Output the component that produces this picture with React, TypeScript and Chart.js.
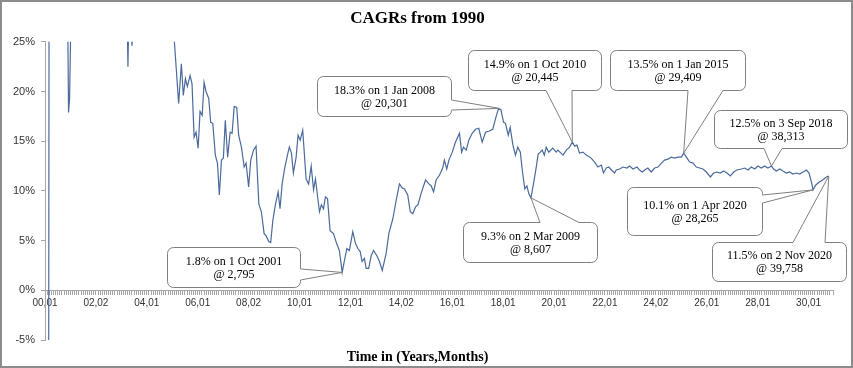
import React, { useEffect, useRef } from 'react';
import { Chart, registerables } from 'chart.js';

Chart.register(...registerables);

const TITLE = 'CAGRs from 1990';
const X_TITLE = 'Time in (Years,Months)';

const xTickLabels = ['00,01', '02,02', '04,01', '06,01', '08,02', '10,01', '12,01', '14,02', '16,01', '18,01', '20,01', '22,01', '24,02', '26,01', '28,01', '30,01'];

// month index since Jan 1990
const months = [
  1.5, 2.2, 5, 9, 10.6, 11.1, 11.6, 12.4, 20, 30, 38.6, 39.1, 39.7, 40.7, 41.0, 41.4, 48, 56, 61.0,
  63.0, 64.3, 65.2, 66.2, 67.1, 68.4, 69.3, 70.3, 71.2, 72.2, 73.1, 74.1, 75.0, 75.9, 77.2, 78.1, 79.1,
  80.3, 81.3, 82.2, 83.2, 84.1, 85.0, 86.1, 87.3, 88.2, 89.2, 90.4, 91.3, 92.6, 93.9, 94.8, 96.0, 97.0,
  98.3, 99.5, 100.8, 102.0, 103.3, 104.2, 105.5, 106.4, 107.4, 108.6, 109.9, 110.8, 111.8, 113.0, 114.3,
  115.2, 116.2, 117.1, 118.4, 119.3, 120.3, 121.5, 123.1, 124.3, 125.5, 126.6, 127.5, 129.4, 130.3, 131.3,
  132.2, 133.2, 134.4, 136.0, 137.5, 138.8, 140.1, 141.2, 142.3, 143.5, 145.1, 146.4, 147.5, 148.6, 149.5,
  150.6, 151.4, 152.6, 153.8, 154.9, 156.4, 157.7, 159.0, 160.8, 162.1, 164.0, 165.6, 167.1, 168.4, 169.5,
  171.0, 172.2, 173.4, 174.7, 175.8, 177.4, 179.4, 181.0, 182.1, 183.2, 184.4, 186.0, 187.5, 188.3, 189.4,
  190.4, 192.0, 193.5, 195.4, 196.4, 197.3, 198.6, 199.8, 201.4, 203.0, 204.5, 206.1, 207.7, 209.2, 211.1,
  212.7, 213.7, 214.9, 216.2, 217.1, 218.4, 219.3, 220.6, 221.8, 222.9, 224.1, 225.0, 226.2, 227.2, 228.1,
  229.1, 230.3, 231.6, 232.5, 233.5, 234.4, 235.4, 236.3, 237.5, 239.4, 241.0, 241.8, 244.2, 245.8, 247.3,
  248.6, 249.7, 250.8, 252.0, 253.6, 255.2, 257.5, 259.1, 260.7, 262.3, 263.3, 264.6, 265.8, 267.1, 268.5,
  269.3, 270.9, 272.5, 274.3, 275.6, 277.2, 279.1, 280.3, 281.6, 282.7, 284.2, 285.8, 287.4, 289.0, 290.6,
  292.1, 293.7, 295.3, 296.8, 298.4, 300.0, 301.1, 302.4, 303.9, 305.5, 307.1, 308.6, 310.2, 311.8, 313.7,
  315.2, 316.8, 318.4, 319.9, 321.5, 323.1, 324.7, 326.2, 328.3, 329.9, 331.4, 333.0, 334.6, 336.1, 337.7,
  339.3, 340.8, 342.5, 343.5, 344.8, 346.4, 347.9, 349.5, 351.1, 352.6, 354.2, 355.8, 357.4, 359.0, 360.2,
  361.3, 362.1, 363.4, 365.0, 366.6, 368.4, 369.5,
];

// CAGR in percent
const cagrPct = [
  -60, 90, 60, 40, 30, 17.9, 19.4, 30, 45, 35, 30, 22.5, 30, 26, 24.6, 26, 33, 30, 25.0,
  18.8, 22.8, 19.6, 21.3, 20.5, 21.6, 20.8, 15.4, 15.9, 14.3, 18.0, 17.6, 20.9, 20.0, 19.3, 16.9, 16.8,
  13.6, 12.8, 9.6, 13.1, 13.3, 17.1, 13.4, 15.9, 15.8, 18.5, 18.4, 15.6, 14.4, 12.4, 12.8, 10.4, 13.1,
  14.1, 14.5, 8.7, 7.9, 5.7, 5.5, 4.9, 4.8, 7.0, 8.6, 9.9, 8.2, 10.7, 12.3, 13.6,
  14.4, 13.8, 11.8, 13.4, 15.6, 15.1, 16.1, 11.2, 10.7, 12.5, 10.1, 11.2, 7.9, 8.6, 8.2,
  9.4, 9.2, 6.0, 5.7, 4.7, 4.0, 1.8, 3.0, 4.2, 4.0, 5.9, 4.7, 4.2, 3.9, 2.9,
  3.2, 2.2, 2.2, 3.5, 4.0, 3.5, 2.9, 2.0, 3.7, 5.7, 7.2, 9.1, 10.7, 10.3, 10.2,
  9.6, 7.9, 7.7, 8.4, 8.6, 9.8, 11.1, 10.7, 10.5, 9.9, 11.1, 11.6, 12.3, 13.1, 12.2,
  13.1, 13.9, 14.9, 15.8, 13.9, 14.4, 14.1, 15.1, 15.8, 16.2, 16.3, 14.9, 15.9, 16.0, 16.2,
  17.5, 18.2, 18.2, 16.9, 16.8, 15.6, 16.4, 14.6, 13.6, 14.4, 13.9, 12.1, 10.2, 10.5, 9.7,
  9.3, 10.7, 12.4, 13.7, 13.9, 14.1, 13.6, 14.4, 13.9, 14.3, 13.9, 14.1, 13.6, 14.1, 14.4,
  14.9, 14.5, 14.6, 13.8, 13.9, 13.6, 13.3, 12.9, 12.4, 12.6, 11.8, 12.3, 12.4, 12.1, 11.8,
  12.1, 12.2, 12.4, 12.3, 12.5, 12.2, 12.4, 12.1, 11.9, 12.1, 12.3, 11.9, 12.3, 12.4, 12.8,
  13.1, 13.2, 13.4, 13.3, 13.4, 13.4, 13.8, 13.4, 12.9, 12.8, 12.4, 12.3, 12.2, 11.9, 11.4,
  11.8, 11.9, 11.8, 12.0, 11.8, 11.5, 11.9, 12.1, 12.2, 12.3, 12.1, 12.4, 12.2, 12.5, 12.3,
  12.5, 12.3, 12.5, 12.2, 12.0, 12.2, 12.0, 11.8, 11.9, 11.7, 11.8, 11.7, 11.9, 12.1, 11.8,
  10.9, 10.1, 10.6, 10.9, 11.1, 11.4, 11.5,
];

// callout texts and the point (month, %) each one points at
const calloutTexts = [
  ['1.8% on 1 Oct 2001', '@ 2,795'],
  ['18.3% on 1 Jan 2008', '@ 20,301'],
  ['14.9% on 1 Oct 2010', '@ 20,445'],
  ['13.5% on 1 Jan 2015', '@ 29,409'],
  ['12.5% on 3 Sep 2018', '@ 38,313'],
  ['10.1% on 1 Apr 2020', '@ 28,265'],
  ['11.5% on 2 Nov 2020', '@ 39,758'],
  ['9.3% on 2 Mar 2009', '@ 8,607'],
];
const calloutMonths = [140.1, 214.3, 248.6, 301.1, 342.5, 362.1, 369.5, 229.1];
const calloutPcts = [1.8, 18.3, 14.9, 13.8, 12.5, 10.1, 11.5, 9.3];

// layout of callout boxes (canvas px): x, y, w, h, side of pointer, pointer base
const calloutLayout = [
  { box: [165, 245, 133, 40], side: 'right', base: [267, 278] },
  { box: [315, 74, 134, 40], side: 'right', base: [98, 108] },
  { box: [466, 48, 133, 40], side: 'bottom', base: [544, 570] },
  { box: [608, 48, 135, 40], side: 'bottom', base: [686, 721] },
  { box: [712, 108, 133, 38], side: 'bottom', base: [762, 780] },
  { box: [625, 185, 135, 48], side: 'right', base: [193, 201] },
  { box: [710, 240, 134, 39], side: 'top', base: [791, 823] },
  { box: [461, 220, 134, 40], side: 'top', base: [538, 577] },
];

const SERIF = "'Liberation Serif', 'DejaVu Serif', serif";
const SANS = "'Liberation Sans', Arial, sans-serif";

const calloutPlugin = {
  id: 'callouts',
  afterDatasetsDraw(chart: any) {
    const { ctx } = chart;
    const xs = chart.scales.x;
    const ys = chart.scales.y;
    ctx.save();
    calloutTexts.forEach((lines, i) => {
      const L = calloutLayout[i];
      const tx = xs.getPixelForValue(calloutMonths[i]);
      const ty = ys.getPixelForValue(calloutPcts[i]);
      const [bx0, by0, bw, bh] = L.box;
      const bx = bx0 + 0.5;
      const by = by0 + 0.5;
      const r = 6;
      const [b1, b2] = L.base;
      ctx.beginPath();
      ctx.moveTo(bx + r, by);
      if (L.side === 'top') {
        ctx.lineTo(b1, by);
        ctx.lineTo(tx, ty);
        ctx.lineTo(b2, by);
      }
      ctx.lineTo(bx + bw - r, by);
      ctx.arcTo(bx + bw, by, bx + bw, by + r, r);
      if (L.side === 'right') {
        ctx.lineTo(bx + bw, b1);
        ctx.lineTo(tx, ty);
        ctx.lineTo(bx + bw, b2);
      }
      ctx.lineTo(bx + bw, by + bh - r);
      ctx.arcTo(bx + bw, by + bh, bx + bw - r, by + bh, r);
      if (L.side === 'bottom') {
        ctx.lineTo(b2, by + bh);
        ctx.lineTo(tx, ty);
        ctx.lineTo(b1, by + bh);
      }
      ctx.lineTo(bx + r, by + bh);
      ctx.arcTo(bx, by + bh, bx, by + bh - r, r);
      ctx.lineTo(bx, by + r);
      ctx.arcTo(bx, by, bx + r, by, r);
      ctx.closePath();
      ctx.fillStyle = '#ffffff';
      ctx.fill();
      ctx.strokeStyle = '#7f7f7f';
      ctx.lineWidth = 1;
      ctx.stroke();

      ctx.fillStyle = '#000000';
      ctx.font = `12px ${SERIF}`;
      ctx.textAlign = 'center';
      ctx.textBaseline = 'middle';
      const cx = bx + bw / 2;
      const cy = by + bh / 2;
      ctx.fillText(lines[0], cx, cy - 6);
      ctx.fillText(lines[1], cx, cy + 7);
    });
    ctx.restore();
  },
};

export default function App() {
  const ref = useRef<HTMLCanvasElement | null>(null);

  useEffect(() => {
    if (!ref.current) return;
    const chart = new Chart(ref.current, {
      type: 'line',
      data: {
        datasets: [
          {
            label: 'CAGR',
            data: months.map((m, i) => ({ x: m, y: cagrPct[i] })),
            borderColor: '#4a6a9b',
            borderWidth: 1.2,
            pointRadius: 0,
            tension: 0,
            fill: false,
          },
        ],
      },
      options: {
        responsive: false,
        animation: false,
        events: [],
        layout: { padding: { left: 0, right: 18, top: 0, bottom: 0 } },
        plugins: {
          legend: { display: false },
          tooltip: { enabled: false },
          title: {
            display: true,
            text: TITLE,
            color: '#000',
            font: { family: SERIF, size: 17, weight: 'bold' },
            padding: { top: 6, bottom: 13.4 },
          },
          subtitle: {
            display: true,
            position: 'bottom',
            text: X_TITLE,
            color: '#000',
            font: { family: SERIF, size: 14, weight: 'bold' },
            padding: { top: 8.6, bottom: 0.6 },
          },
        },
        scales: {
          x: {
            type: 'linear',
            position: { y: 0 },
            min: 0,
            max: 371.5,
            afterFit: (s: any) => {
              s.height = 0;
            },
            ticks: {
              stepSize: 1,
              autoSkip: false,
              maxRotation: 0,
              minRotation: 0,
              padding: 3,
              color: '#333',
              font: { family: SANS, size: 10 },
              callback: (v: any) => {
                const n = Number(v);
                if (n % 24 === 0) {
                  const idx = n / 24;
                  if (idx < xTickLabels.length) return xTickLabels[idx];
                }
                return '';
              },
            },
            grid: { drawOnChartArea: false, drawTicks: true, tickLength: 4, color: '#a6a6a6' },
            border: { display: true, color: '#a6a6a6' },
          },
          y: {
            type: 'linear',
            min: -5,
            max: 25,
            afterFit: (s: any) => {
              s.width = 43;
            },
            ticks: {
              stepSize: 5,
              padding: 6,
              color: '#333',
              font: { family: SANS, size: 11 },
              callback: (v: any) => `${v}%`,
            },
            grid: { drawOnChartArea: false, tickLength: 4, color: '#a6a6a6' },
            border: { display: true, color: '#a6a6a6' },
          },
        },
      } as any,
      plugins: [calloutPlugin],
    });
    return () => chart.destroy();
  }, []);

  return (
    <div
      style={{
        position: 'absolute',
        left: 0,
        top: 0,
        width: 853,
        height: 368,
        boxSizing: 'border-box',
        border: '2px solid #8c8c8c',
        background: '#fff',
      }}
    >
      <canvas ref={ref} width={849} height={364} style={{ display: 'block' }} />
    </div>
  );
}
